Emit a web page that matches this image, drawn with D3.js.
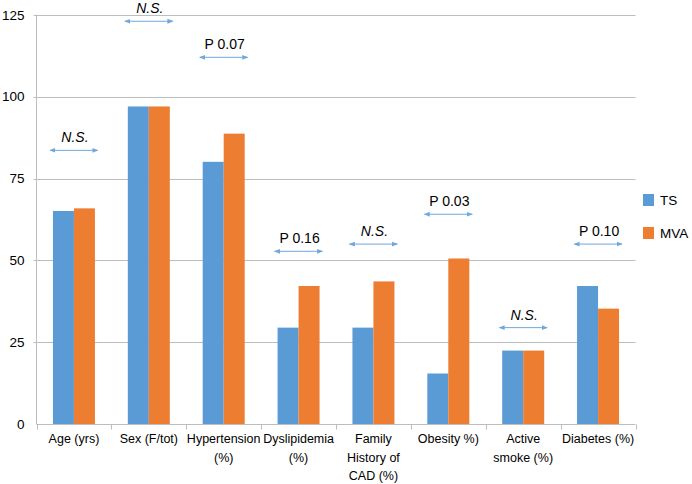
<!DOCTYPE html>
<html>
<head>
<meta charset="utf-8">
<script src="https://cdn.jsdelivr.net/npm/d3@7"></script>
<style>
  html, body { margin: 0; padding: 0; background: #fff; }
  svg { display: block; font-family: "Liberation Sans", Arial, sans-serif; }
</style>
</head>
<body>
<svg id="chart" width="692" height="484"></svg>
<script>
// ---- data ----
const categories = [
  ["Age (yrs)"],
  ["Sex (F/tot)"],
  ["Hypertension", "(%)"],
  ["Dyslipidemia", "(%)"],
  ["Family", "History of", "CAD (%)"],
  ["Obesity %)"],
  ["Active", "smoke (%)"],
  ["Diabetes (%)"]
];
const seriesNames = ["TS", "MVA"];
const tsValues  = [65.1, 97.0, 80.1, 29.5, 29.5, 15.5, 22.5, 42.2];
const mvaValues = [65.9, 97.0, 88.7, 42.2, 43.6, 50.6, 22.5, 35.3];
const yTicks = [0, 25, 50, 75, 100, 125];
// significance annotations: label, italic flag, level (y value of the arrow)
const annotLabels = ["N.S.", "N.S.", "P 0.07", "P 0.16", "N.S.", "P 0.03", "N.S.", "P 0.10"];
const annotItalic = [true, true, false, false, true, false, true, false];
const annotLevels = [83.6, 123.0, 112.0, 52.8, 55.0, 64.1, 29.5, 55.0];

// ---- layout ----
const colors = ["#5b9bd5", "#ed7d31"];
const svg = d3.select("#chart");
const x0 = 36.5, x1 = 635.5, yTop = 14.7, yBot = 424.3;

const x = d3.scaleBand().domain(d3.range(categories.length)).range([x0, x1]).paddingInner(0).paddingOuter(0);
const barW = 21;
const y = d3.scaleLinear().domain([0, 125]).range([yBot, yTop]);

// gridlines
svg.append("g").selectAll("line").data(yTicks.filter(d => d > 0)).join("line")
  .attr("x1", x0 - 3).attr("x2", x1)
  .attr("y1", d => Math.round(y(d)) + 0.5).attr("y2", d => Math.round(y(d)) + 0.5)
  .attr("stroke", "#bdbdbd").attr("stroke-width", 1);

// y axis labels
const yAxis = d3.axisLeft(y).tickValues(yTicks).tickSize(0).tickPadding(0).tickFormat(d3.format("d"));
const yg = svg.append("g").attr("transform", `translate(${x0 - 12},0)`).call(yAxis);
yg.select(".domain").remove();
yg.selectAll("text").attr("font-size", 13.5).attr("fill", "#000")
  .attr("font-family", "'Liberation Sans', Arial, sans-serif");

// left axis line
svg.append("line").attr("x1", x0).attr("x2", x0).attr("y1", yTop).attr("y2", yBot)
  .attr("stroke", "#bdbdbd");

// bars
const groups = svg.append("g").selectAll("g").data(categories.map((c, i) => i)).join("g")
  .attr("transform", i => `translate(${x(i) + x.bandwidth() / 2},0)`);
groups.append("rect")
  .attr("x", -barW).attr("width", barW)
  .attr("y", i => y(tsValues[i])).attr("height", i => y(0) - y(tsValues[i]))
  .attr("fill", colors[0]);
groups.append("rect")
  .attr("x", 0).attr("width", barW)
  .attr("y", i => y(mvaValues[i])).attr("height", i => y(0) - y(mvaValues[i]))
  .attr("fill", colors[1]);

// x axis line + boundary ticks
const yb = Math.round(yBot) + 0.5;
svg.append("line").attr("x1", x0).attr("x2", x1).attr("y1", yb).attr("y2", yb)
  .attr("stroke", "#bdbdbd");
const bounds = d3.range(categories.length + 1).map(i => x0 + i * x.step());
svg.append("g").selectAll("line").data(bounds).join("line")
  .attr("x1", d => Math.round(d) + 0.5).attr("x2", d => Math.round(d) + 0.5)
  .attr("y1", yb).attr("y2", yb + 5).attr("stroke", "#bdbdbd");

// x labels
const xl = svg.append("g").selectAll("text").data(categories).join("text")
  .attr("text-anchor", "middle").attr("font-size", 12.5).attr("fill", "#000")
  .attr("transform", (d, i) => `translate(${x(i) + x.bandwidth() / 2},0)`);
xl.selectAll("tspan").data(d => d).join("tspan")
  .attr("x", 0).attr("y", (d, j) => 443 + j * 18.5).text(d => d);

// arrow markers
const defs = svg.append("defs");
const arrowCol = "#6fa8dc";
["start", "end"].forEach(kind => {
  defs.append("marker").attr("id", "arr-" + kind)
    .attr("viewBox", "0 0 10 10").attr("refX", kind === "end" ? 9 : 1).attr("refY", 5)
    .attr("markerWidth", 6).attr("markerHeight", 6).attr("markerUnits", "userSpaceOnUse")
    .attr("orient", "auto")
    .append("path")
    .attr("d", kind === "end" ? "M0,1 L10,5 L0,9 Z" : "M10,1 L0,5 L10,9 Z")
    .attr("fill", arrowCol);
});

const ann = svg.append("g").selectAll("g").data(annotLevels.map((v, i) => i)).join("g")
  .attr("transform", i => `translate(${x(i) + x.bandwidth() / 2},${y(annotLevels[i])})`);
ann.append("line")
  .attr("x1", -x.bandwidth() * 0.32).attr("x2", x.bandwidth() * 0.32)
  .attr("y1", 0).attr("y2", 0)
  .attr("stroke", arrowCol).attr("stroke-width", 1)
  .attr("marker-start", "url(#arr-start)").attr("marker-end", "url(#arr-end)");
ann.append("text").attr("x", 1).attr("y", -8).attr("text-anchor", "middle")
  .attr("font-size", 14).attr("fill", "#000")
  .attr("font-style", i => annotItalic[i] ? "italic" : "normal")
  .text(i => annotLabels[i]);

// legend
const leg = svg.append("g").selectAll("g").data(seriesNames).join("g")
  .attr("transform", (d, i) => `translate(643,${194 + i * 33})`);
leg.append("rect").attr("width", 11).attr("height", 12).attr("fill", (d, i) => colors[i]);
leg.append("text").attr("x", 17).attr("y", 11).attr("font-size", 13.5).attr("fill", "#000").text(d => d);
</script>
</body>
</html>
